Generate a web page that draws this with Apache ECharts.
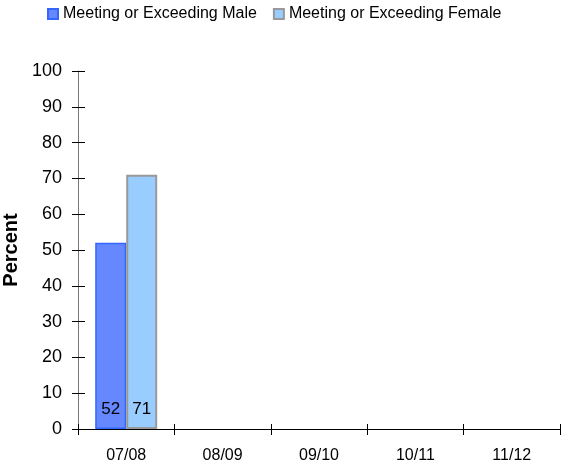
<!DOCTYPE html>
<html><head><meta charset="utf-8">
<script src="https://cdn.jsdelivr.net/npm/echarts@6/dist/echarts.min.js"></script>
<style>html,body{margin:0;padding:0;background:#fff}#c{width:561px;height:468px}</style>
</head><body><div id="c"></div>
<script>
const categories = ['07/08', '08/09', '09/10', '10/11', '11/12'];
const maleValues = [52, null, null, null, null];
const femaleValues = [71, null, null, null, null];
const yTicks = [0, 10, 20, 30, 40, 50, 60, 70, 80, 90, 100];
const seriesNames = ['Meeting or Exceeding Male', 'Meeting or Exceeding Female'];
const axisTitle = 'Percent';

const font = 'Liberation Sans, Arial, sans-serif';
const chart = echarts.init(document.getElementById('c'), null, {renderer: 'canvas'});
const yMax = yTicks[yTicks.length - 1];
const yInt = yTicks[1] - yTicks[0];
chart.setOption({
  animation: false,
  legend: {
    top: 1, left: 42, itemWidth: 10, itemHeight: 10, itemGap: 16, icon: 'rect',
    textStyle: {fontFamily: font, fontSize: 16, color: '#000'},
    data: seriesNames
  },
  grid: {left: 78, right: 1, top: 71, bottom: 39, containLabel: false, outerBoundsMode: 'none'},
  xAxis: [{
    type: 'category', data: categories, position: 'bottom',
    axisLine: {lineStyle: {color: '#000', width: 1}},
    axisTick: {show: false},
    axisLabel: {fontFamily: font, fontSize: 16, color: '#000', margin: 19}
  }, {
    type: 'category', data: categories, position: 'bottom', offset: -5,
    axisLine: {show: false},
    axisTick: {show: true, length: 11, lineStyle: {color: '#000'}},
    axisLabel: {show: false}
  }],
  yAxis: [{
    type: 'value', min: 0, max: yMax, interval: yInt,
    name: axisTitle, nameLocation: 'middle', nameGap: 49, nameRotate: 90,
    nameTextStyle: {fontFamily: font, fontSize: 20, fontWeight: 'bold', color: '#000'},
    axisLine: {show: true, lineStyle: {color: '#777', width: 1}},
    axisTick: {show: false},
    axisLabel: {fontFamily: font, fontSize: 18, color: '#000', margin: 16},
    splitLine: {show: false}
  }, {
    type: 'value', min: 0, max: yMax, interval: yInt, position: 'left', offset: -7,
    axisLine: {show: false},
    axisTick: {show: true, length: 13, lineStyle: {color: '#000'}},
    axisLabel: {show: false}, splitLine: {show: false}
  }],
  series: [{
    name: seriesNames[0], type: 'bar', data: maleValues, barWidth: 31, barGap: '0%',
    itemStyle: {color: '#6688ff', borderColor: '#3366ff', borderWidth: 1.5},
    label: {show: true, position: 'insideBottom', distance: 11, fontFamily: font, fontSize: 17, color: '#000'}
  }, {
    name: seriesNames[1], type: 'bar', data: femaleValues, barWidth: 31, barGap: '0%',
    itemStyle: {color: '#99ccff', borderColor: '#999999', borderWidth: 2},
    label: {show: true, position: 'insideBottom', distance: 11, fontFamily: font, fontSize: 17, color: '#000'}
  }]
});
</script></body></html>
